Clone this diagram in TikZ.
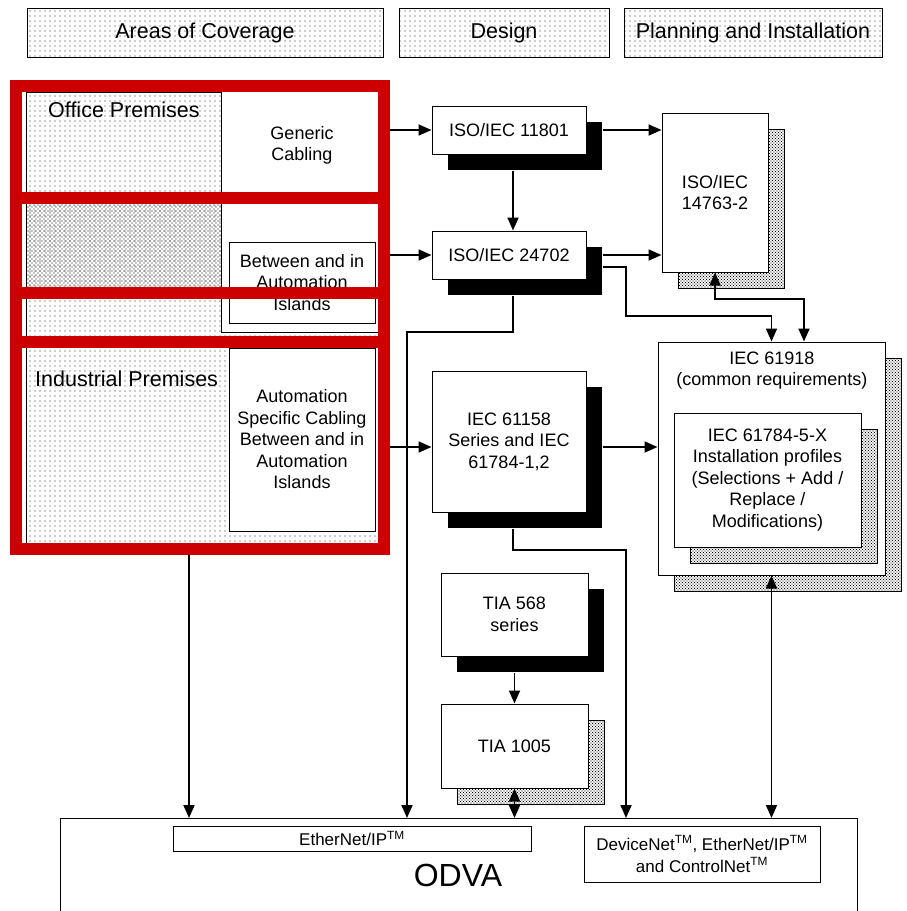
\documentclass[tikz,border=0pt]{standalone}
\usepackage{fontspec}
\setmainfont{Liberation Sans}
\usetikzlibrary{patterns,arrows.meta,shadows,calc}
\pgfdeclarepatternformonly{sparsedots}{\pgfqpoint{-1pt}{-1pt}}{\pgfqpoint{1pt}{1pt}}{\pgfqpoint{5pt}{5pt}}{\pgfpathcircle{\pgfqpoint{0pt}{0pt}}{0.65pt}\pgfusepath{fill}}
\pgfdeclarepatternformonly{meddots}{\pgfqpoint{-1pt}{-1pt}}{\pgfqpoint{3pt}{3pt}}{\pgfqpoint{4pt}{4pt}}{\pgfpathcircle{\pgfqpoint{0pt}{0pt}}{0.6pt}\pgfpathcircle{\pgfqpoint{2pt}{2pt}}{0.6pt}\pgfusepath{fill}}
\pgfdeclarepatternformonly{densedots}{\pgfqpoint{-1pt}{-1pt}}{\pgfqpoint{2.5pt}{2.5pt}}{\pgfqpoint{3pt}{3pt}}{\pgfpathcircle{\pgfqpoint{0pt}{0pt}}{0.7pt}\pgfpathcircle{\pgfqpoint{1.5pt}{1.5pt}}{0.7pt}\pgfusepath{fill}}
\definecolor{redframe}{RGB}{204,0,0}
\newcommand\fsbox{\fontsize{18}{21.5}\selectfont}
\newcommand\fshead{\fontsize{21.5}{25}\selectfont}
\newcommand\fssmall{\fontsize{17}{22}\selectfont}
\newcommand\fsbig{\fontsize{32}{36}\selectfont}
\begin{document}
\begin{tikzpicture}[x=1pt,y=-1pt,
  box/.style={draw, line width=1pt, fill=white, inner sep=0pt, align=center, font=\fsbox},
  head/.style={draw, line width=1pt, pattern=sparsedots, pattern color=black!85, inner sep=0pt, font=\fshead},
  blkshadow/.style={general shadow={shadow xshift=16pt, shadow yshift=-16pt, fill=black}},
  dotshadow/.style={general shadow={shadow xshift=16pt, shadow yshift=-16pt, pattern=densedots, pattern color=black, draw=black, line width=1pt}},
  arr/.style={line width=1.8pt, -{Triangle[length=13pt,width=11pt]}},
  darr/.style={line width=1.8pt, {Triangle[length=13pt,width=11pt]}-{Triangle[length=13pt,width=11pt]}},
  redline/.style={draw=redframe, line width=12pt}
]
\useasboundingbox (0,0) rectangle (906,911);

% header boxes
\node[head, minimum width=356, minimum height=49] (hcov) at (205,32.5) {Areas of Coverage};
\node[head, minimum width=210, minimum height=49] (hdes) at (504,32.5) {Design};
\node[head, minimum width=258, minimum height=49] (hpla) at (753,32.5) {Planning and Installation};

% left coverage region
\draw[line width=1pt, pattern=sparsedots, pattern color=black!85] (26,92) rectangle (380,543);
\fill[pattern=meddots, pattern color=black] (26.5,198) rectangle (221,293);
\fill[white] (221,92) rectangle (380,332);
\draw[line width=1pt] (221,92) -- (221,332) -- (380,332);

\node[font=\fsbox, align=center, inner sep=0pt] (generic) at (302,145.5) {Generic\\Cabling};
\node[box, minimum width=146, minimum height=81] (between) at (302,282.5) {Between and in\\Automation\\Islands};
\node[box, minimum width=146, minimum height=183] (autospec) at (302,439.5) {Automation\\Specific Cabling\\Between and in\\Automation\\Islands};
\node[font=\fshead, anchor=base west, inner sep=0pt] (office) at (48,117) {Office Premises};
\node[font=\fshead, anchor=base west, inner sep=0pt] (industrial) at (35,386) {Industrial Premises};

% red frame
\draw[redline] (16,86) rectangle (384,549);
\draw[redline] (10,197.5) -- (390,197.5);
\draw[redline] (16,293) -- (384,293);
\draw[redline] (10,342) -- (390,342);

% standards boxes
\node[box, blkshadow, minimum width=154, minimum height=48] (iso11801) at (509,130) {ISO/IEC 11801};
\node[box, blkshadow, minimum width=154, minimum height=48] (iso24702) at (509,255) {ISO/IEC 24702};
\node[box, dotshadow, minimum width=106, minimum height=159] (iso14763) at (715,192.5) {ISO/IEC\\14763-2};
\node[box, blkshadow, minimum width=154, minimum height=141] (iec61158) at (509,441.5) {IEC 61158\\Series and IEC\\61784-1,2};
\node[box, dotshadow, minimum width=227, minimum height=233] (iec61918) at (771.5,458.5) {};
\node[font=\fsbox, align=center, inner sep=0pt] (t61918) at (772,370.5) {IEC 61918\\(common requirements)};
\node[box, dotshadow, minimum width=187, minimum height=134] (iec61784) at (767.5,480) {IEC 61784-5-X\\Installation profiles\\(Selections + Add /\\Replace /\\Modifications)};
\node[box, blkshadow, minimum width=147, minimum height=83] (tia568) at (514.5,614.5) {TIA 568\\series};
\node[box, dotshadow, minimum width=147, minimum height=84] (tia1005) at (514.5,746) {TIA 1005};

% ODVA
\node[box, anchor=north west, minimum width=797, minimum height=130] (odva) at (60,818) {};
\node[box, font=\fssmall, minimum width=358, minimum height=25] (ethip) at (352,838.5) {EtherNet/IP\textsuperscript{TM}};
\node[box, font=\fssmall, minimum width=236, minimum height=56] (devnet) at (702,854) {DeviceNet\textsuperscript{TM}, EtherNet/IP\textsuperscript{TM}\\and ControlNet\textsuperscript{TM}};
\node[font=\fsbig, inner sep=0pt] (odvalabel) at (458,875) {ODVA};

% connectors
\coordinate (in1) at (390,130);
\coordinate (in2) at (390,255);
\coordinate (in3) at (390,447);
\coordinate (out1) at (189,555);
\coordinate (b1) at (626,316);
\coordinate (b2) at (804,299);
\coordinate (b3) at (407,332);
\coordinate (b4) at (626,550);

\draw[arr] (in1) -- (iso11801.west);
\draw[arr] (in2) -- (iso24702.west);
\draw[arr] (in3) -- (in3 -| iec61158.west);
\draw[arr] (out1) -- (out1 |- odva.north);

\draw[arr] ([xshift=16pt]iso11801.east) -- (iso11801.east -| iso14763.west);
\draw[arr] ([xshift=16pt]iso24702.east) -- (iso24702.east -| iso14763.west);
\draw[arr] ([xshift=4pt,yshift=-16pt]iso11801.south) -- ([xshift=4pt]iso24702.north);
\draw[arr] ([xshift=16pt,yshift=-12pt]iso24702.east) -| (b1) -| (iec61918.north);
\draw[darr] (iso14763.south) |- (b2) -- (b2 |- iec61918.north);
\draw[arr] ([xshift=16pt]in3 -| iec61158.east) -- (in3 -| iec61918.west);
\draw[arr] ([xshift=4pt,yshift=-16pt]iso24702.south) |- (b3) -- (b3 |- odva.north);
\draw[arr] ([xshift=4pt,yshift=-16pt]iec61158.south) |- (b4) -- (b4 |- odva.north);
\draw[arr] ([yshift=-16pt]tia568.south) -- (tia1005.north);
\draw[darr] (tia1005.south) -- (tia1005.south |- odva.north);
\draw[darr] (iec61918.south) -- (iec61918.south |- odva.north);
\end{tikzpicture}
\end{document}
